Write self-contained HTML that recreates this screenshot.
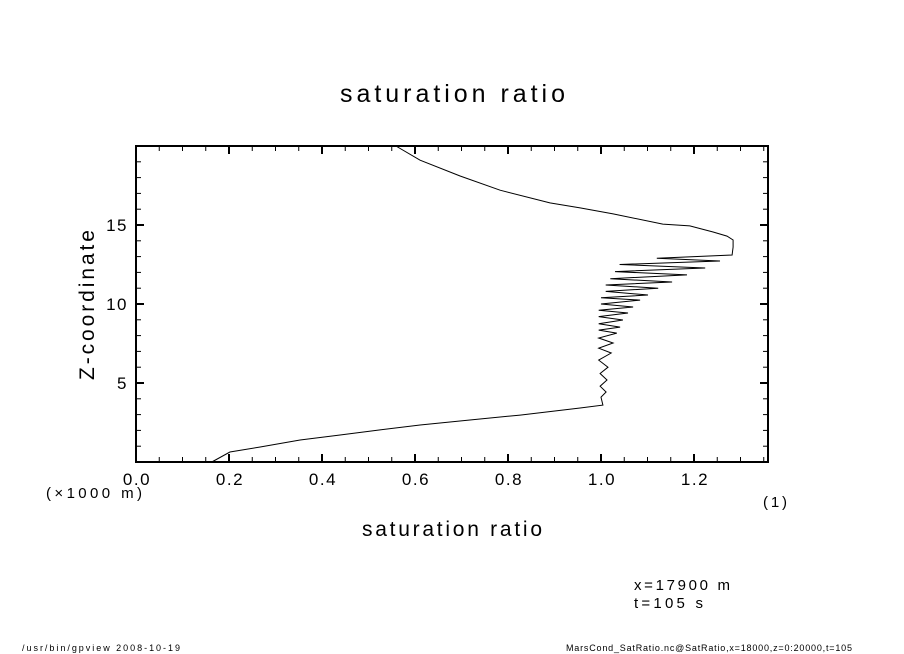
<!DOCTYPE html>
<html><head><meta charset="utf-8"><style>
html,body{margin:0;padding:0;background:#fff}
svg{display:block;font-family:"Liberation Sans","DejaVu Sans",sans-serif}
</style></head><body>
<svg id="chart" width="904" height="654" viewBox="0 0 904 654" xmlns="http://www.w3.org/2000/svg">
<rect width="904" height="654" fill="#fff"/>
<text x="340" y="102" font-size="25" textLength="225" lengthAdjust="spacing">saturation ratio</text>
<g id="axes"></g>
<rect x="136" y="146" width="632" height="316" fill="none" stroke="#000" stroke-width="2"/>
<path id="line" fill="none" stroke="#000" stroke-width="1"/>
<text x="362" y="536" font-size="21" textLength="180" lengthAdjust="spacing">saturation ratio</text>
<text x="230" y="94" font-size="21" textLength="150" lengthAdjust="spacing" transform="translate(0 610) rotate(-90 0 0) translate(0 0)">Z-coordinate</text>
<text x="46" y="498" font-size="15" textLength="96" lengthAdjust="spacing">(×1000 m)</text>
<text x="763" y="507" font-size="15" textLength="24" lengthAdjust="spacing">(1)</text>
<text x="634" y="590" font-size="15" textLength="96" lengthAdjust="spacing">x=17900  m</text>
<text x="634" y="608" font-size="15" textLength="69" lengthAdjust="spacing">t=105  s</text>
<text x="22" y="651" font-size="9" textLength="158" lengthAdjust="spacing">/usr/bin/gpview   2008-10-19</text>
<text x="566" y="651" font-size="9" textLength="286" lengthAdjust="spacing">MarsCond_SatRatio.nc@SatRatio,x=18000,z=0:20000,t=105</text>
</svg>
<script>
const xTicks = [0.0, 0.2, 0.4, 0.6, 0.8, 1.0, 1.2];
const yTicks = [5, 10, 15];
const sVals = [0.559,0.611,0.697,0.783,0.890,0.955,1.026,1.133,1.191,1.241,1.271,1.284,1.284,1.282,
 1.12,1.256,1.04,1.224,1.03,1.185,1.02,1.153,1.01,1.123,1.01,1.101,1.0,1.084,1.0,1.069,0.995,1.058,0.995,1.047,0.995,1.041,0.995,1.034,0.995,1.026,0.995,1.022,0.995,1.015,0.998,1.013,0.998,1.011,1.0,
 1.004,0.955,0.826,0.718,0.611,0.525,0.439,0.353,0.267,0.202,0.163];
const zVals = [20,19.1,18.1,17.2,16.4,16.08,15.7,15.06,14.94,14.56,14.3,14.05,13.6,13.1,
 12.9,12.72,12.5,12.28,12.05,11.84,11.6,11.39,11.2,11.0,10.8,10.57,10.4,10.25,10.0,9.81,9.6,9.43,9.2,8.99,8.75,8.54,8.35,8.16,7.85,7.53,7.2,6.9,6.45,6.0,5.6,5.19,4.8,4.43,4.1,
 3.6,3.42,2.97,2.66,2.34,2.03,1.71,1.39,0.95,0.63,0];
const X0=136,X1=768,Y0=462,Y1=146,XMAX=632/465,YMAX=20;
const xs=v=>X0+v/XMAX*(X1-X0), ys=v=>Y0-v/YMAX*(Y0-Y1);
const NS="http://www.w3.org/2000/svg", g=document.getElementById('axes');
function ln(x1,y1,x2,y2,name){const l=document.createElementNS(NS,'line');
l.setAttribute('x1',x1);l.setAttribute('y1',y1);l.setAttribute('x2',x2);l.setAttribute('y2',y2);
l.setAttribute('stroke','#000');l.setAttribute('stroke-width',name.indexOf('major')>=0?2:1);


g.appendChild(l);}
function tx(x,y,s,anchor,name){const t=document.createElementNS(NS,'text');
t.setAttribute('x',x);t.setAttribute('y',y);t.setAttribute('font-size','17');t.setAttribute('letter-spacing','1.5');t.setAttribute('text-anchor',anchor);t.textContent=s;


g.appendChild(t);}
for(let v=0.05;v<XMAX;v+=0.05){const x=xs(v);const maj=Math.abs(v/0.2-Math.round(v/0.2))<1e-6;const L=maj?8:5;
ln(x,Y0,x,Y0-L,maj?'x-major-tick':'x-minor-tick');ln(x,Y1,x,Y1+L,maj?'x-major-tick-top':'x-minor-tick-top');}
for(let v=1;v<YMAX;v+=1){const y=ys(v);const maj=v%5===0;const L=maj?8:5;
ln(X0,y,X0+L,y,maj?'y-major-tick':'y-minor-tick');ln(X1,y,X1-L,y,maj?'y-major-tick-right':'y-minor-tick-right');}
xTicks.forEach(v=>tx(xs(v)+1,485,v.toFixed(1),'middle','x-tick-label'));
yTicks.forEach(v=>tx(128,ys(v)+6,String(v),'end','y-tick-label'));
let d='';sVals.forEach((s,i)=>{d+=(i?'L':'M')+xs(s).toFixed(1)+' '+ys(zVals[i]).toFixed(1);});
document.getElementById('line').setAttribute('d',d);
</script>
</body></html>
